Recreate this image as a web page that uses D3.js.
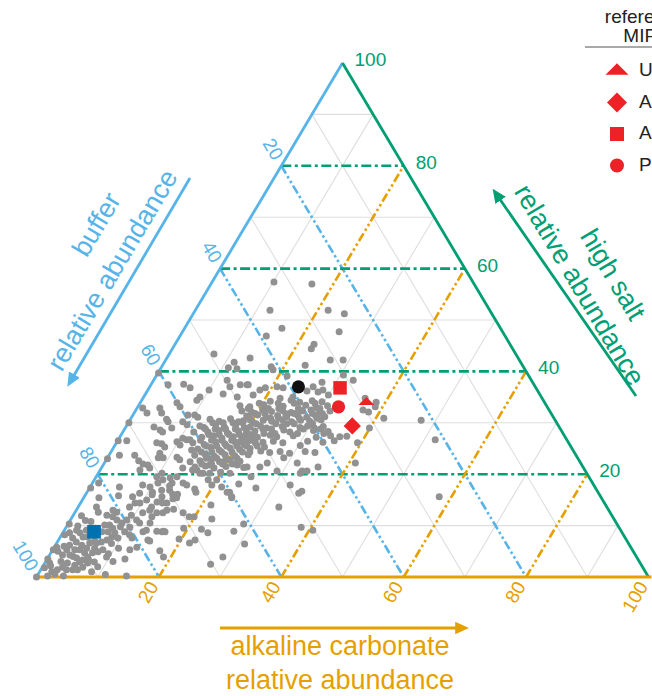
<!DOCTYPE html>
<html><head><meta charset="utf-8">
<script src="https://cdn.jsdelivr.net/npm/d3@7"></script>
<style>
html,body{margin:0;padding:0;background:#fff;overflow:hidden}
svg{display:block;font-family:"Liberation Sans",Arial,Helvetica,sans-serif}
</style>
</head><body>
<svg id="chart" width="652" height="696"></svg>
<script>
// ---------------- data (ternary %, pairs are [high salt, alkaline carbonate]; buffer = 100 - salt - carbonate)
const gridMinor = [10, 30, 50, 70, 90];
const gridMajor = [20, 40, 60, 80];
const tickValues = [20, 40, 60, 80, 100];
const axisTitles = {
  buffer: ["buffer", "relative abundance"],
  salt: ["high salt", "relative abundance"],
  carbonate: ["alkaline carbonate", "relative abundance"]
};
const legendTitle = ["reference", "MIPs"];
const legendLabels = ["U", "A", "A", "P"];
const legendShapes = ["triangle", "diamond", "square", "circle"];

const greyPoints = [
  // lower-left cluster
  [18.3,1.0],[17.3,0.2],[17.5,4.8],[15.8,5.5],[15.4,2.5],[13.6,3.0],[12.6,3.8],[11.9,1.4],[10.3,0.2],[9.9,1.8],[8.2,0.5],
  [12.6,6.8],[11.7,6.6],[11.1,7.6],[10.5,8.7],[11.1,9.2],[9.7,10.4],[8.8,10.0],[8.2,11.1],[11.1,10.8],[12.5,11.1],[14.4,9.7],
  [14.4,8.9],[13.6,8.4],[15.6,7.9],[16.3,8.7],[15.0,10.5],[13.6,12.0],[14.6,12.4],[15.6,12.7],[14.4,14.1],[16.9,13.3],[18.3,13.0],
  [15.4,15.2],[12.5,14.4],[12.5,13.4],[10.5,13.3],[9.1,13.4],[8.8,16.1],[8.8,16.6],[10.5,11.6],[8.8,13.0],[7.2,14.6],[5.8,13.5],
  [5.3,12.6],[7.6,11.8],[19.5,9.9],[20.2,10.4],[19.3,12.2],[18.3,10.7],[19.5,13.2],
  [7.6,2.1],[6.8,3.1],[6.2,4.3],[5.6,5.4],[4.7,5.5],[5.3,4.4],[5.3,3.6],[6.2,2.3],[5.3,2.3],[4.3,2.1],[4.3,3.3],[3.7,4.7],
  [2.9,5.6],[2.3,5.1],[2.7,3.7],[1.9,3.3],[1.4,2.7],[1.0,2.0],[0.2,1.7],[0.6,2.7],[1.4,4.2],[1.4,5.2],[3.3,5.9],[3.9,6.4],
  [4.7,6.8],[4.9,7.6],[5.3,8.2],[6.8,7.2],[7.2,7.9],[7.8,8.4],[8.6,8.5],[7.6,9.5],[8.8,7.3],[8.8,6.3],[10.1,6.1],[10.1,6.9],
  [9.5,7.7],[7.8,4.5],[7.8,3.7],[8.6,2.8],[9.1,3.6],[9.1,2.0],[8.6,1.1],[6.6,5.4],[6.6,6.5],[5.6,6.7],[2.7,7.0],[1.9,6.6],
  [1.4,6.0],[5.8,0.4],[5.3,0.1],[3.5,0.1],[0,0],[0.2,4.3],[0.2,14.6],[3.5,12.7],[3.9,9.5],[5.6,10.6],[2.9,8.0],[2.7,0.8],[1.8,0.4],
  [4.0,4.0],[3.0,2.5],[6.0,1.5],[7.0,6.0],[9.5,4.8],[10.8,3.5],[12.0,5.5],[11.0,2.5],[6.5,9.0],[4.5,9.5],[2.0,9.0],[3.0,11.0],
  [1.0,8.5],[0.5,11.0],[13.0,6.0],[12.0,9.5],[2.2,1.2],[3.4,6.8],[5.0,1.0],[9.8,8.8],
  // lower middle
  [21.4,35.3],[20.2,33.0],[17.9,32.5],[16.3,34.7],[16.7,35.0],[13.6,32.8],[15.6,58.0],[9.7,38.4],[9.1,40.6],[10.3,28.7],[8.9,27.8],
  [6.4,30.8],[3.9,28.5],[2.5,27.2],[17.3,27.2],[15.6,24.1],[18.1,24.0],[19.5,25.3],[14.0,21.5],[11.3,23.0],[9.3,22.3],[8.6,23.7],
  [7.2,22.3],[6.6,21.7],[7.4,19.6],[8.9,16.3],[8.9,15.2],[5.1,17.6],[3.9,18.8],[7.0,15.0],[9.5,19.3],[17.1,17.3],[11.7,19.9],
  [11.7,19.1],[12.5,17.7],[13.2,15.8],[13.0,14.8],[15.2,14.7],[14.4,13.4],[13.0,12.0],[11.7,13.0],
  [18.9,11.2],[17.7,12.9],[18.3,14.8],[17.9,15.6],[16.5,17.8],[16.1,15.0],[16.1,14.2],[16.5,10.7],[16.0,10.9],[16.9,12.0],
  [21.8,17.4],[20.8,15.1],[21.2,13.3],[20.2,17.1],[18.9,20.0],[22.4,19.3],[20.2,21.5],[21.8,21.9],[16.5,23.3],[22.2,21.8],
  [17.5,21.5],[16.5,22.9],[15.4,24.2],
  // middle-left cloud
  [39.7,0.1],[37.4,2.8],[37.5,5.3],[36.8,6.7],[36.4,10.0],[38.3,12.0],[37.0,13.1],[37.4,14.6],[37.4,15.7],[35.0,9.2],[34.4,9.0],
  [35.6,12.7],[35.0,15.3],[33.9,6.0],[33.1,6.9],[32.9,0.9],[31.9,2.1],[32.9,3.7],[31.9,4.5],[31.5,9.0],[31.5,10.1],[31.1,10.8],
  [30.0,0.1],[29.2,4.6],[30.7,5.9],[30.2,6.4],[30.2,8.8],[29.6,9.8],[28.2,6.5],[28.6,5.9],[29.0,7.6],[26.5,1.5],[26.5,0.1],
  [26.1,6.6],[25.9,7.5],[25.3,8.3],[26.3,9.8],[25.7,10.6],[27.0,10.4],[26.7,11.2],[23.0,0.1],[23.7,1.7],[23.7,4.2],[22.6,5.4],
  [22.0,6.4],[21.8,7.3],[21.2,7.9],[24.1,8.1],[23.2,8.3],[23.2,9.1],[23.3,11.3],[22.8,12.0],[22.4,13.9],[20.8,6.5],[17.9,8.4],
  [17.5,9.8],[20.8,15.8],[20.2,16.6],
  // dense core
  [30.7,13.0],[30.3,14.7],[30.8,16.3],[30.2,17.9],[30.6,19.6],
  [29.4,12.0],[29.1,12.8],[29.6,14.5],[29.2,16.1],[29.5,17.8],[29.1,19.4],
  [28.2,13.9],[28.5,15.6],[28.0,17.2],[28.4,18.8],[28.1,20.3],
  [27.2,13.4],[27.5,15.2],[27.0,16.8],[27.3,18.5],[27.0,20.1],[27.4,21.6],
  [26.1,12.5],[25.8,14.5],[26.3,16.1],[25.9,17.8],[26.2,19.4],[25.8,21.0],[26.1,22.7],
  [24.9,13.9],[25.2,15.9],[24.7,17.5],[25.1,19.1],[24.8,20.8],[25.0,22.4],
  [23.7,14.0],[23.9,15.6],[23.5,17.3],[23.8,18.9],[23.6,20.6],[23.8,22.7],
  [22.6,15.4],[22.9,17.1],[22.4,18.7],[22.7,20.3],[22.5,22.0],
  [21.4,15.2],[21.6,16.8],[21.2,18.4],[21.5,20.2],[21.3,23.2],
  [20.2,18.2],[20.4,19.9],[18.9,18.6],[17.9,19.7],[24.7,13.0],[26.7,11.7],[28.2,11.6],
  [30.0,13.8],[30.0,15.5],[30.0,17.1],[30.0,18.7],
  [28.8,13.2],[28.8,14.8],[28.8,16.5],[28.8,18.1],[28.8,19.8],
  [27.7,14.3],[27.7,16.0],[27.7,17.6],[27.7,19.3],[27.7,21.0],
  [26.6,13.5],[26.6,15.3],[26.6,17.0],[26.6,18.6],[26.6,20.3],[26.6,22.0],
  [25.5,15.0],[25.5,16.7],[25.5,18.3],[25.5,20.0],[25.5,21.6],
  [24.3,14.8],[24.3,16.5],[24.3,18.1],[24.3,19.8],[24.3,21.5],
  [23.1,16.2],[23.1,17.9],[23.1,19.5],[23.1,21.2],
  [22.0,16.0],[22.0,17.6],[22.0,19.4],[22.0,21.0],
  // right part of main cloud
  [40.3,18.5],[39.1,21.4],[37.4,15.9],[35.4,17.7],[36.4,18.3],[36.8,19.0],[37.0,20.8],[36.8,21.9],[36.2,26.1],[37.0,26.7],
  [36.0,28.0],[36.4,28.6],[35.4,30.0],[37.9,27.7],[39.3,30.5],[38.3,32.6],[42.2,26.9],[42.2,29.0],[34.8,36.3],[32.5,37.1],[32.1,38.2],
  [34.2,21.1],[34.4,24.4],[34.0,26.0],[34.3,27.9],[34.1,29.6],
  [33.3,16.6],[33.1,18.3],[33.5,20.4],[33.2,23.7],[33.4,27.3],[33.0,29.2],[33.3,30.9],[34.8,22.4],[35.0,24.4],
  [32.3,17.4],[32.1,19.1],[32.5,20.7],[32.2,22.3],[32.4,24.0],[32.0,25.6],[32.3,27.3],[32.5,28.6],[32.1,30.2],[32.3,31.8],
  [31.3,18.7],[31.5,20.4],[31.1,22.0],[31.4,23.7],[31.2,25.3],[31.5,26.9],[31.1,28.6],[31.4,29.9],[31.2,31.5],
  [30.4,18.6],[30.2,20.2],[30.5,21.8],[30.3,23.3],[30.6,24.9],[30.2,26.6],[30.5,27.9],[30.3,29.5],[30.6,31.2],
  [29.2,20.3],[29.4,21.9],[29.0,23.1],[29.3,25.5],[29.1,28.5],[29.4,29.6],[29.0,30.9],[29.3,32.2],
  [28.4,21.5],[28.6,26.1],[28.2,27.3],[28.5,31.0],[28.3,33.5],
  [27.4,20.3],[27.2,22.5],[27.6,24.4],[27.3,25.6],[27.5,28.2],[27.2,32.1],[27.5,34.3],[27.3,35.9],[27.4,37.0],
  [26.3,20.1],[26.5,21.4],[26.2,23.9],[26.4,25.5],[26.1,27.2],[26.4,31.1],[26.2,33.7],[26.5,35.4],
  [25.5,23.3],[25.3,24.6],[25.6,30.3],[26.1,39.4],
  [24.3,22.7],[24.5,24.4],[24.2,26.0],[24.4,27.6],[24.1,29.3],[24.4,31.7],[24.2,33.4],
  [23.2,28.8],[22.2,26.6],[22.2,31.5],[22.2,41.0],[21.4,23.7],[21.4,25.8],[20.6,29.0],[20.6,33.1],[20.6,33.9],
  [33.8,19.5],[33.8,22.6],[33.8,25.2],[33.8,28.6],
  [32.8,18.2],[32.8,21.5],[32.8,23.2],[32.8,26.4],[32.8,29.9],
  [31.8,19.8],[31.8,21.4],[31.8,24.8],[31.8,26.2],[31.8,29.2],[31.8,30.8],
  [30.9,19.4],[30.9,22.8],[30.9,24.1],[30.9,27.5],[30.9,30.4],
  [29.8,21.0],[29.8,24.2],[29.8,26.0],[29.8,27.2],[29.8,30.2],
  [28.8,22.6],[28.8,24.0],[28.8,29.2],[28.8,32.0],
  [27.9,23.2],[27.9,25.0],[27.9,28.7],[27.9,33.0],
  // scattered upper / right
  [57.4,10.1],[57.0,16.5],[51.9,12.2],[51.9,21.7],[51.2,24.7],[48.4,15.9],[46.9,14.1],[47.7,25.6],[45.3,22.7],[44.4,22.7],
  [43.4,7.3],[42.6,13.6],[41.8,11.4],[41.2,23.3],[40.7,11.0],[40.5,12.5],[40.9,17.9],[34.0,38.5],[33.1,38.8],[30.9,41.3],
  [29.0,39.9],[30.5,47.6],[26.7,51.8]
];
const blackPoint = [37.0, 24.3];
const bluePoint = [8.8, 5.0];
const redPoints = [
  {shape: "square",   v: [36.8, 31.2]},
  {shape: "circle",   v: [33.1, 32.8]},
  {shape: "triangle", v: [34.0, 36.9]},
  {shape: "diamond",  v: [29.4, 36.9]}
];

// ---------------- styles
const C = {
  blue: "#56B4E9", green: "#009E73", orange: "#E69F00",
  grid: "#dedede", grey: "#919191", red: "#ec2227", dblue: "#0072B2", black: "#111"
};

const svg = d3.select("#chart");
const L = [36.5, 577], T = [342.5, 63], R = [648.5, 577];
const ySalt = d3.scaleLinear().domain([0, 100]).range([L[1], T[1]]);
const xSaltShift = d3.scaleLinear().domain([0, 100]).range([0, T[0] - L[0]]);
const xCarb = d3.scaleLinear().domain([0, 100]).range([0, R[0] - L[0]]);
const proj = (s, c) => [L[0] + xSaltShift(s) + xCarb(c), ySalt(s)];
const line = d3.line();
const ang = Math.atan2(L[1] - T[1], T[0] - L[0]) * 180 / Math.PI; // ~59.2

// grid
const g = svg.append("g");
function constLines(v) {
  return {
    salt: [proj(v, 0), proj(v, 100 - v)],
    carb: [proj(0, v), proj(100 - v, v)],
    buf: [proj(100 - v, 0), proj(0, 100 - v)]
  };
}
gridMinor.forEach(v => {
  const c = constLines(v);
  ["salt", "carb", "buf"].forEach(k => g.append("path").attr("d", line(c[k]))
    .attr("stroke", C.grid).attr("stroke-width", 1.1).attr("fill", "none"));
});
gridMajor.forEach(v => {
  const c = constLines(v);
  g.append("path").attr("d", line(c.buf)).attr("stroke", C.blue).attr("stroke-width", 2.6)
    .attr("fill", "none").attr("stroke-dasharray", "9,3,2.5,3,2.5,3");
  g.append("path").attr("d", line(c.carb)).attr("stroke", C.orange).attr("stroke-width", 2.6)
    .attr("fill", "none").attr("stroke-dasharray", "9,3,2.5,3,2.5,3");
  g.append("path").attr("d", line(c.salt)).attr("stroke", C.green).attr("stroke-width", 2.6)
    .attr("fill", "none").attr("stroke-dasharray", "10,3.5,3,3.5");
});

// edges
svg.append("path").attr("d", line([proj(0, 0), proj(100, 0)])).attr("stroke", C.blue).attr("stroke-width", 2.8);
svg.append("path").attr("d", line([proj(100, 0), proj(0, 100)])).attr("stroke", C.green).attr("stroke-width", 2.8);
svg.append("path").attr("d", line([[L[0] - 1, L[1]], [R[0] + 3, R[1]]])).attr("stroke", C.orange).attr("stroke-width", 2.8);

// tick labels
const fsTick = 19;
const upLeft = (() => { const dx = T[0] - R[0], dy = T[1] - R[1], n = Math.hypot(dx, dy); return [dx / n, dy / n]; })();
const downLeft = (() => { const dx = L[0] - T[0], dy = L[1] - T[1], n = Math.hypot(dx, dy); return [dx / n, dy / n]; })();
tickValues.forEach(v => {
  const pg = proj(v, 100 - v);
  svg.append("text").attr("x", pg[0] + 12).attr("y", pg[1] - 2)
    .attr("fill", C.green).attr("font-size", fsTick).attr("dominant-baseline", "middle").text(v);
  const pb = proj(100 - v, 0);
  svg.append("text").attr("transform", `translate(${pb[0] + upLeft[0] * 8},${pb[1] + upLeft[1] * 8}) rotate(${ang})`)
    .attr("text-anchor", "end").attr("dominant-baseline", "middle")
    .attr("fill", C.blue).attr("font-size", fsTick).text(v);
  const pc = proj(0, v);
  svg.append("text").attr("transform", `translate(${pc[0] + downLeft[0] * 8},${pc[1] + downLeft[1] * 8}) rotate(${-ang})`)
    .attr("text-anchor", "end").attr("dominant-baseline", "middle")
    .attr("fill", C.orange).attr("font-size", fsTick).text(v);
});

// arrows
const defs = svg.append("defs");
[["ab", C.blue], ["ag", C.green], ["ao", C.orange]].forEach(([id, col]) => {
  defs.append("marker").attr("id", id).attr("viewBox", "0 0 10 10").attr("refX", 2).attr("refY", 5)
    .attr("markerWidth", 5).attr("markerHeight", 5).attr("orient", "auto")
    .append("path").attr("d", "M0,0.5L10,5L0,9.5z").attr("fill", col);
});
svg.append("path").attr("d", line([[190, 178], [73, 377]])).attr("stroke", C.blue).attr("stroke-width", 2.8).attr("marker-end", "url(#ab)");
svg.append("path").attr("d", line([[636, 396], [499, 198]])).attr("stroke", C.green).attr("stroke-width", 2.8).attr("marker-end", "url(#ag)");
svg.append("path").attr("d", line([[220, 628], [458, 628]])).attr("stroke", C.orange).attr("stroke-width", 2.8).attr("marker-end", "url(#ao)");

// axis titles: last line at (cx,cy); earlier lines stacked "above" in the rotated frame; along[i] shifts along the text
const fsTitle = 27;
function title(lines, cx, cy, rot, col, gap, along) {
  const r = rot * Math.PI / 180;
  const up = [Math.sin(r), -Math.cos(r)], dir = [Math.cos(r), Math.sin(r)];
  lines.forEach((t, i) => {
    const k = (lines.length - 1 - i) * gap, a = along[i] || 0;
    const x = cx + up[0] * k + dir[0] * a, y = cy + up[1] * k + dir[1] * a;
    svg.append("text").attr("transform", `translate(${x},${y}) rotate(${rot})`)
      .attr("text-anchor", "middle").attr("dominant-baseline", "middle")
      .attr("fill", col).attr("font-size", fsTitle).text(t);
  });
}
title(axisTitles.carbonate, 340, 682, 0, C.orange, 34, [0, 0]);
title(axisTitles.buffer, 114, 271, -ang, C.blue, 37, [31, 0]);
title(axisTitles.salt, 578, 286, ang, C.green, 34, [8, 0]);

// grey points
svg.append("g").selectAll("circle").data(greyPoints).join("circle")
  .attr("cx", d => proj(d[0], d[1])[0]).attr("cy", d => proj(d[0], d[1])[1])
  .attr("r", 3.5).attr("fill", C.grey);

// special points
const sym = (shape, size) => {
  const t = {triangle: d3.symbolTriangle, diamond: d3.symbolSquare, square: d3.symbolSquare, circle: d3.symbolCircle}[shape];
  return d3.symbol(t, size)();
};
const shapeTransform = (shape) => shape === "diamond" ? " rotate(45)" : shape === "triangle" ? " scale(1,0.58)" : "";
const pk = proj(blackPoint[0], blackPoint[1]);
svg.append("path").attr("d", sym("circle", 135)).attr("transform", `translate(${pk})`).attr("fill", C.black);
const pbq = proj(bluePoint[0], bluePoint[1]);
svg.append("path").attr("d", sym("square", 188)).attr("transform", `translate(${pbq})`).attr("fill", C.dblue);
const sizes = {square: 182, circle: 140, triangle: 110, diamond: 150};
redPoints.forEach(d => {
  const p = proj(d.v[0], d.v[1]);
  svg.append("path").attr("d", sym(d.shape, sizes[d.shape]))
    .attr("transform", `translate(${p})${shapeTransform(d.shape)}`).attr("fill", C.red);
});

// legend
const lg = svg.append("g");
legendTitle.forEach((t, i) => lg.append("text").attr("x", 645).attr("y", 18 + i * 19)
  .attr("text-anchor", "middle").attr("dominant-baseline", "middle").attr("font-size", 19).attr("fill", "#222").text(t));
lg.append("line").attr("x1", 585).attr("x2", 652).attr("y1", 47).attr("y2", 47).attr("stroke", "#555").attr("stroke-width", 1.2);
const lsizes = {triangle: 230, diamond: 200, square: 196, circle: 154};
legendShapes.forEach((s, i) => {
  const y = 71 + i * 31.5;
  lg.append("path").attr("d", sym(s, lsizes[s])).attr("transform", `translate(617,${y})${shapeTransform(s)}`).attr("fill", C.red);
  lg.append("text").attr("x", 639).attr("y", y).attr("dominant-baseline", "middle").attr("font-size", 19).attr("fill", "#222").text(legendLabels[i]);
});
</script>
</body></html>
